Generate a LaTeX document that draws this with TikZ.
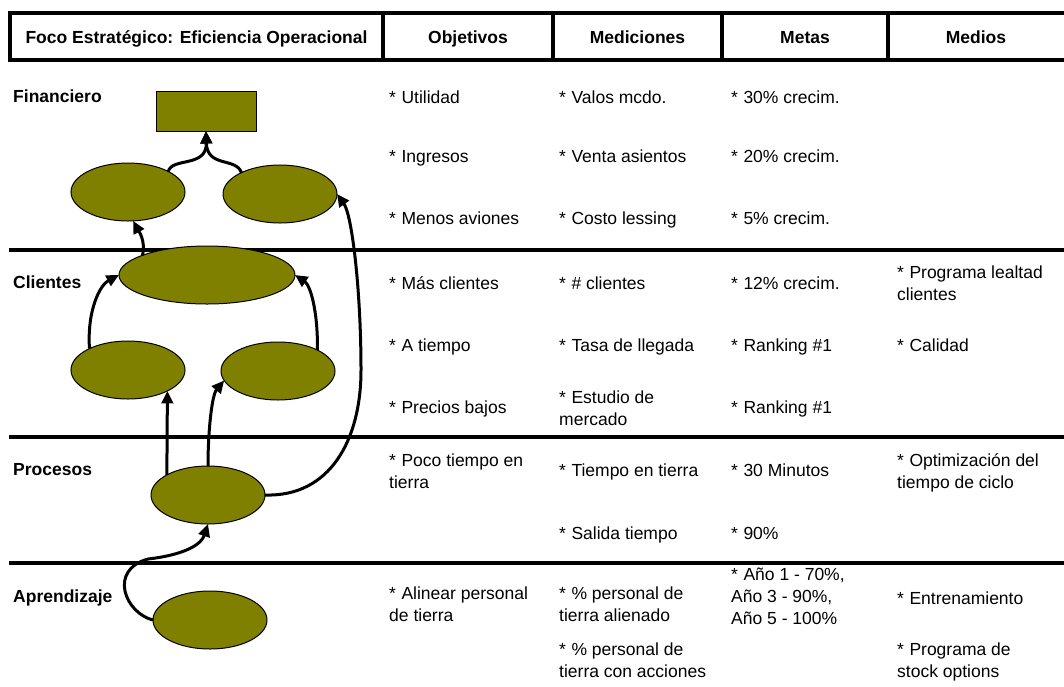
\documentclass[tikz,border=0pt]{standalone}
\usepackage{fontspec}
\setmainfont{Liberation Sans}
\usetikzlibrary{shapes.geometric,arrows.meta}
\definecolor{olivefill}{RGB}{128,128,0}
\newcommand\bl{*\hspace{5.5pt}}
\begin{document}
\begin{tikzpicture}[x=1pt,y=-1pt,
  txt/.style={font=\fontsize{17.5}{22}\selectfont},
  cell/.style={txt,anchor=base west,inner sep=0pt,align=left},
  head/.style={txt,anchor=base,inner sep=0pt,font=\fontsize{17.5}{22}\selectfont\bfseries},
  section/.style={txt,anchor=base west,inner sep=0pt,font=\fontsize{17.5}{22}\selectfont\bfseries},
  blob/.style={ellipse,draw=black,line width=1pt,fill=olivefill,minimum width=114pt,minimum height=58pt,inner sep=0pt,outer sep=0pt},
  link/.style={line width=3pt,-{Triangle[length=12.5pt,width=11.5pt]}},
  rule/.style={line width=4pt},
  frame/.style={line width=3.5pt,line join=miter}]
\useasboundingbox (0,0) rectangle (1064,686);

% header frame and column separators
\draw[frame] (1070,13) -- (10,13) -- (10,60) -- (1070,60);
\foreach \xc in {383,553,722,888} \draw[frame] (\xc,13) -- (\xc,60);
\node[head] (h0) at (196.5,43) {Foco Estratégico: Eficiencia Operacional};
\node[head] (h1) at (468,43) {Objetivos};
\node[head] (h2) at (637.5,43) {Mediciones};
\node[head] (h3) at (805,43) {Metas};
\node[head] (h4) at (976,43) {Medios};

% perspective separators
\foreach \yr in {250,437,563} \draw[rule] (9,\yr) -- (1064,\yr);

% perspective names
\node[section] (sf) at (13,102) {Financiero};
\node[section] (sc) at (13,288) {Clientes};
\node[section] (sp) at (13,475) {Procesos};
\node[section] (sa) at (13,602) {Aprendizaje};

% strategy map
\node[draw=black,line width=1pt,fill=olivefill,minimum width=100pt,minimum height=40pt,inner sep=0pt,outer sep=0pt] (goal) at (206,111) {};
\node[blob] (f1) at (128,192) {};
\node[blob] (f2) at (280,194) {};
\node[blob,minimum width=176pt] (c1) at (207,275) {};
\node[blob] (c2) at (128,370) {};
\node[blob] (c3) at (278,371) {};
\node[blob] (p1) at (208,495) {};
\node[blob] (a1) at (210,620) {};

\draw[link] (f1.27) .. controls (172,157) and (207,168) .. (goal.south);
\draw[link] (f2.151) .. controls (236,157) and (207,168) .. (goal.south);
\draw[link] (c1.163) .. controls (146,240) and (138,230) .. (f1.-80);
\draw[link] (c2.151) .. controls (87,310) and (100,285) .. (c1.west);
\draw[link] (c3.28) .. controls (318,310) and (310,285) .. (c1.east);
\draw[link] (p1.154) -- (c2.-28);
\draw[link] (p1.north) .. controls (208,430) and (212,395) .. (c3.190);
\draw[link] (p1.east) .. controls (330,497) and (361,440) .. (361,370)
  .. controls (361,290) and (352,215) .. (f2.east);
\draw[link] (a1.west) .. controls (125,613) and (108,570) .. (148,559)
  .. controls (175,556) and (200,548) .. (p1.south);

% Financiero (multi-line cells are placed by the baseline of their last line)
\node[cell] (o1) at (389,103) {\bl Utilidad};
\node[cell] (m1) at (559,103) {\bl Valos mcdo.};
\node[cell] (t1) at (731,103) {\bl 30\% crecim.};
\node[cell] (o2) at (389,162) {\bl Ingresos};
\node[cell] (m2) at (559,162) {\bl Venta asientos};
\node[cell] (t2) at (731,162) {\bl 20\% crecim.};
\node[cell] (o3) at (389,224) {\bl Menos aviones};
\node[cell] (m3) at (559,224) {\bl Costo lessing};
\node[cell] (t3) at (731,224) {\bl 5\% crecim.};

% Clientes
\node[cell] (o4) at (389,289) {\bl Más clientes};
\node[cell] (m4) at (559,289) {\bl \# clientes};
\node[cell] (t4) at (731,289) {\bl 12\% crecim.};
\node[cell] (d4) at (897,300) {\bl Programa lealtad\\clientes};
\node[cell] (o5) at (389,351) {\bl A tiempo};
\node[cell] (m5) at (559,351) {\bl Tasa de llegada};
\node[cell] (t5) at (731,351) {\bl Ranking \#1};
\node[cell] (d5) at (897,351) {\bl Calidad};
\node[cell] (o6) at (389,413) {\bl Precios bajos};
\node[cell] (m6) at (559,425) {\bl Estudio de\\mercado};
\node[cell] (t6) at (731,413) {\bl Ranking \#1};

% Procesos
\node[cell] (o7) at (389,488) {\bl Poco tiempo en\\tierra};
\node[cell] (m7) at (559,476) {\bl Tiempo en tierra};
\node[cell] (t7) at (731,476) {\bl 30 Minutos};
\node[cell] (d7) at (897,488) {\bl Optimización del\\tiempo de ciclo};
\node[cell] (m8) at (559,539) {\bl Salida tiempo};
\node[cell] (t8) at (731,539) {\bl 90\%};

% Aprendizaje
\node[cell] (o9) at (389,621) {\bl Alinear personal\\de tierra};
\node[cell] (m9) at (559,621) {\bl \% personal de\\tierra alienado};
\node[cell] (t9) at (731,624) {\bl Año 1 - 70\%,\\Año 3 - 90\%,\\Año 5 - 100\%};
\node[cell] (d9) at (897,604) {\bl Entrenamiento};
\node[cell] (m10) at (559,677) {\bl \% personal de\\tierra con acciones};
\node[cell] (d10) at (897,677) {\bl Programa de\\stock options};
\end{tikzpicture}
\end{document}
